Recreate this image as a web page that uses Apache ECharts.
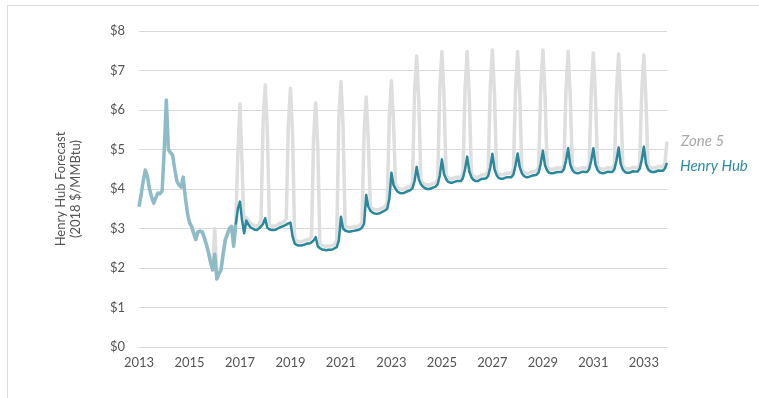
<!DOCTYPE html>
<html>
<head>
<meta charset="utf-8">
<script src="https://cdn.jsdelivr.net/npm/echarts@6/dist/echarts.min.js"></script>
<style>
html,body{margin:0;padding:0;background:#fff;}
#chart{width:759px;height:398px;}
</style>
</head>
<body>
<div id="chart"></div>
<script>
// ---- DATA ----
const firstYear = 2013;
const lastYear = 2033;
const yTicks = [0, 1, 2, 3, 4, 5, 6, 7, 8];

// Henry Hub historical, monthly Jan 2013 .. Nov 2016
const hhHistory = [
  3.55, 3.85, 4.20, 4.48, 4.32, 4.00, 3.80, 3.64, 3.78, 3.90, 3.88, 3.95,
  5.00, 6.25, 5.00, 4.92, 4.85, 4.50, 4.20, 4.10, 4.05, 4.30, 3.80, 3.40,
  3.15, 3.05, 2.88, 2.72, 2.92, 2.93, 2.92, 2.78, 2.60, 2.40, 2.15, 1.95,
  2.35, 1.72, 1.85, 1.95, 2.35, 2.70, 2.85, 3.00, 3.05, 2.55, 3.10
];

// Henry Hub forecast, monthly Nov 2016 .. Dec 2033
const hhForecast = [
  3.10, 3.50,
  3.68, 3.20, 2.88, 3.20, 3.10, 3.03, 3.00, 2.97, 2.96, 3.00, 3.05, 3.12,
  3.26, 3.02, 2.98, 2.96, 2.96, 2.97, 3.00, 3.03, 3.05, 3.07, 3.10, 3.13,
  3.15, 2.80, 2.62, 2.58, 2.57, 2.57, 2.58, 2.60, 2.62, 2.62, 2.65, 2.70,
  2.78, 2.55, 2.50, 2.47, 2.46, 2.45, 2.46, 2.46, 2.47, 2.50, 2.53, 2.70,
  3.30, 3.00, 2.95, 2.93, 2.92, 2.93, 2.94, 2.95, 2.96, 2.98, 3.02, 3.12,
  3.85, 3.55, 3.45, 3.40, 3.38, 3.37, 3.38, 3.40, 3.43, 3.46, 3.50, 3.75,
  4.41, 4.10, 4.00, 3.93, 3.90, 3.89, 3.90, 3.93, 3.95, 3.97, 4.02, 4.20,
  4.56, 4.25, 4.12, 4.06, 4.02, 4.00, 4.00, 4.02, 4.04, 4.06, 4.12, 4.35,
  4.75, 4.38, 4.25, 4.18, 4.16, 4.16, 4.18, 4.20, 4.20, 4.20, 4.28, 4.50,
  4.82, 4.45, 4.30, 4.23, 4.20, 4.20, 4.23, 4.26, 4.26, 4.27, 4.33, 4.55,
  4.89, 4.50, 4.35, 4.28, 4.26, 4.26, 4.28, 4.30, 4.30, 4.30, 4.37, 4.60,
  4.90, 4.55, 4.40, 4.33, 4.30, 4.30, 4.32, 4.34, 4.35, 4.36, 4.42, 4.65,
  4.97, 4.60, 4.47, 4.41, 4.40, 4.40, 4.42, 4.43, 4.43, 4.43, 4.50, 4.72,
  5.03, 4.62, 4.48, 4.42, 4.40, 4.40, 4.42, 4.44, 4.43, 4.43, 4.50, 4.72,
  5.03, 4.62, 4.48, 4.42, 4.40, 4.40, 4.42, 4.44, 4.43, 4.43, 4.50, 4.73,
  5.05, 4.63, 4.49, 4.43, 4.41, 4.41, 4.43, 4.45, 4.44, 4.44, 4.51, 4.74,
  5.07, 4.64, 4.50, 4.45, 4.43, 4.43, 4.45, 4.47, 4.46, 4.46, 4.52, 4.66
];

// Zone 5, monthly Jan 2015 .. Dec 2033
const zone5 = [
  3.15, 3.05, 2.88, 2.72, 2.92, 2.93, 2.92, 2.78, 2.60, 2.40, 2.15, 2.00,
  3.00, 1.80, 1.88, 1.98, 2.38, 2.72, 2.88, 3.02, 3.07, 2.60, 3.15, 4.90,
  6.15, 4.60, 2.95, 3.28, 3.20, 3.13, 3.10, 3.07, 3.06, 3.10, 3.20, 5.70,
  6.63, 5.50, 3.10, 3.06, 3.06, 3.07, 3.10, 3.13, 3.15, 3.17, 3.25, 5.65,
  6.55, 5.40, 2.75, 2.68, 2.67, 2.67, 2.68, 2.70, 2.72, 2.72, 2.80, 5.30,
  6.18, 5.05, 2.62, 2.57, 2.56, 2.55, 2.56, 2.56, 2.57, 2.60, 2.70, 5.80,
  6.72, 5.60, 3.06, 3.03, 3.02, 3.03, 3.04, 3.05, 3.06, 3.08, 3.15, 5.40,
  6.33, 5.25, 3.55, 3.50, 3.48, 3.47, 3.48, 3.50, 3.53, 3.56, 3.65, 5.85,
  6.74, 5.65, 4.10, 4.03, 4.00, 3.99, 4.00, 4.03, 4.05, 4.07, 4.15, 6.45,
  7.37, 6.25, 4.22, 4.16, 4.12, 4.10, 4.10, 4.12, 4.14, 4.16, 4.25, 6.55,
  7.48, 6.35, 4.35, 4.28, 4.26, 4.26, 4.28, 4.30, 4.30, 4.30, 4.40, 6.55,
  7.48, 6.35, 4.40, 4.33, 4.30, 4.30, 4.33, 4.36, 4.36, 4.37, 4.45, 6.60,
  7.52, 6.40, 4.45, 4.38, 4.36, 4.36, 4.38, 4.40, 4.40, 4.40, 4.50, 6.55,
  7.48, 6.35, 4.50, 4.43, 4.40, 4.40, 4.42, 4.44, 4.45, 4.46, 4.55, 6.60,
  7.52, 6.40, 4.57, 4.51, 4.50, 4.50, 4.52, 4.53, 4.53, 4.53, 4.62, 6.55,
  7.48, 6.35, 4.58, 4.52, 4.50, 4.50, 4.52, 4.54, 4.53, 4.53, 4.62, 6.50,
  7.44, 6.30, 4.58, 4.52, 4.50, 4.50, 4.52, 4.54, 4.53, 4.53, 4.62, 6.50,
  7.42, 6.30, 4.59, 4.53, 4.51, 4.51, 4.53, 4.55, 4.54, 4.54, 4.63, 6.50,
  7.39, 6.25, 4.60, 4.55, 4.53, 4.53, 4.55, 4.57, 4.56, 4.56, 4.64, 5.20
];

// ---- BUILD ----
const months = [];
for (let y = firstYear; y <= lastYear; y++) {
  for (let m = 1; m <= 12; m++) months.push(y + '-' + (m < 10 ? '0' + m : m));
}
const N = months.length;
function place(arr, startIdx) {
  const out = new Array(N).fill(null);
  arr.forEach((v, i) => { out[startIdx + i] = v; });
  return out;
}
const hhHistSeries = place(hhHistory, 0);
const hhFcSeries = place(hhForecast, hhHistory.length - 1);
const zone5Series = place(zone5, 24);

const chart = echarts.init(document.getElementById('chart'), null, {renderer: 'canvas'});
const FONT = 'Lato, "Open Sans", sans-serif';
chart.setOption({
  animation: false,
  backgroundColor: '#ffffff',
  grid: {left: 139, right: 92, top: 31, bottom: 51, containLabel: false},
  xAxis: {
    type: 'category',
    data: months,
    boundaryGap: false,
    axisLine: {show: true, lineStyle: {color: '#d9d9d9', width: 1}},
    axisTick: {show: false},
    axisLabel: {
      interval: 23,
      color: '#555',
      fontFamily: FONT,
      fontSize: 13,
      margin: 9,
      formatter: v => v.slice(0, 4)
    },
    splitLine: {show: false}
  },
  yAxis: {
    type: 'value',
    min: yTicks[0],
    max: yTicks[yTicks.length - 1],
    interval: 1,
    name: 'Henry Hub Forecast\n(2018 $/MMBtu)',
    nameLocation: 'middle',
    nameRotate: 90,
    nameGap: 56,
    nameTextStyle: {color: '#555', fontFamily: FONT, fontSize: 13, lineHeight: 15},
    axisLine: {show: false},
    axisTick: {show: false},
    axisLabel: {color: '#555', fontFamily: FONT, fontSize: 13, margin: 14, formatter: v => '$' + v},
    splitLine: {show: true, lineStyle: {color: '#d9d9d9', width: 1}}
  },
  series: [
    {
      name: 'Zone 5', type: 'line', data: zone5Series, showSymbol: false, symbol: 'none',
      lineStyle: {color: '#dedede', width: 3.5, join: 'round'}, z: 1, connectNulls: false
    },
    {
      name: 'Henry Hub (historical)', type: 'line', data: hhHistSeries, showSymbol: false, symbol: 'none',
      lineStyle: {color: '#8dbbc6', width: 3.5, join: 'round'}, z: 2
    },
    {
      name: 'Henry Hub', type: 'line', data: hhFcSeries, showSymbol: false, symbol: 'none',
      lineStyle: {color: '#2a889c', width: 2.5, join: 'round'}, z: 3
    }
  ],
  graphic: [
    {type: 'line', shape: {x1: 7, y1: 5.5, x2: 759, y2: 5.5}, style: {stroke: '#dcdcdc', lineWidth: 1}, silent: true},
    {type: 'line', shape: {x1: 7.5, y1: 5, x2: 7.5, y2: 398}, style: {stroke: '#dcdcdc', lineWidth: 1}, silent: true},
    {type: 'text', left: 681, top: 134, style: {text: 'Zone 5', fill: '#a8a8a8', font: 'italic 15px ' + FONT}},
    {type: 'text', left: 680, top: 159, style: {text: 'Henry Hub', fill: '#2f8da3', font: 'italic 15px ' + FONT}}
  ]
});
</script>
</body>
</html>
